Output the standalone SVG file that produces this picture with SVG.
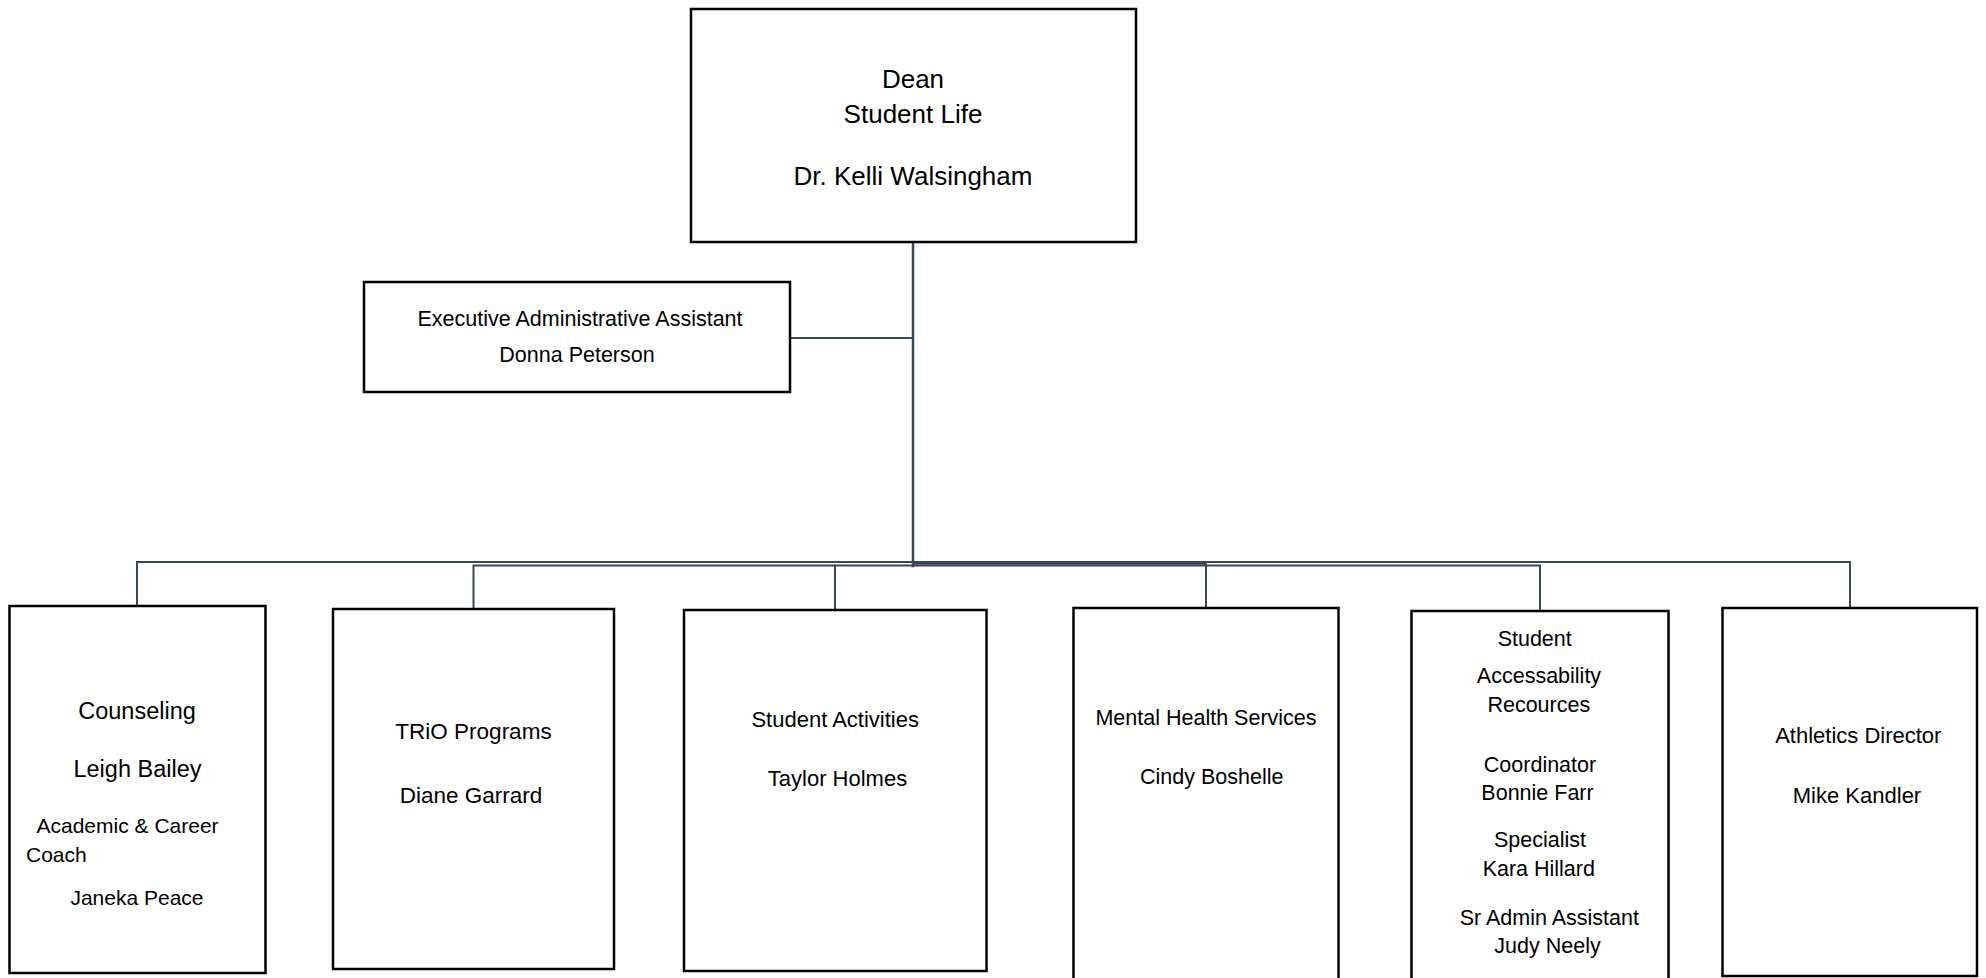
<svg xmlns="http://www.w3.org/2000/svg" width="1986" height="978" viewBox="0 0 1986 978">
<style>
.box{fill:#fff;stroke:#000;stroke-width:2.5}
.con{fill:none;stroke:#3b475a;stroke-width:2;stroke-linecap:square}
text{font-family:"Liberation Sans",Arial,sans-serif;fill:#000;text-anchor:middle}
.t26{font-size:26px}
.t235{font-size:23.5px}
.t225{font-size:22.5px}
.t22{font-size:22px}
.t215{font-size:21.5px}
.t21{font-size:21px}
</style>
<rect width="1986" height="978" fill="#fff"/>
<g id="connectors">
<path class="con" d="M913,242 V566" style="stroke-width:2.5"/>
<path class="con" d="M791,338 H913"/>
<path class="con" d="M137,606 V562 H1850 V608"/>
<path class="con" d="M473.5,609 V565.5 H1540 V611"/>
<path class="con" d="M913,563.8 H1206 V608"/>
<path class="con" d="M835,565.5 V610"/>
</g>
<g id="dean">
<rect class="box" x="691" y="9" width="445" height="233"/>
<text class="t26" x="913" y="88">Dean</text>
<text class="t26" x="913" y="123">Student Life</text>
<text class="t26" x="913" y="185">Dr. Kelli Walsingham</text>
</g>
<g id="exec-assistant">
<rect class="box" x="364" y="282" width="426" height="110"/>
<text class="t215" x="580" y="326">Executive Administrative Assistant</text>
<text class="t215" x="577" y="362">Donna Peterson</text>
</g>
<g id="counseling">
<rect class="box" x="9.5" y="606" width="256" height="367"/>
<text class="t235" x="137" y="719">Counseling</text>
<text class="t235" x="137.5" y="777">Leigh Bailey</text>
<text class="t21" x="36.5" y="833" style="text-anchor:start">Academic &amp; Career</text>
<text class="t21" x="26" y="862" style="text-anchor:start">Coach</text>
<text class="t21" x="137" y="905">Janeka Peace</text>
</g>
<g id="trio">
<rect class="box" x="333" y="609" width="281" height="360"/>
<text class="t225" x="473.5" y="739">TRiO Programs</text>
<text class="t225" x="471" y="803">Diane Garrard</text>
</g>
<g id="student-activities">
<rect class="box" x="684" y="610" width="302.5" height="361"/>
<text class="t22" x="835.2" y="727">Student Activities</text>
<text class="t22" x="837.5" y="786">Taylor Holmes</text>
</g>
<g id="mental-health">
<rect class="box" x="1073.5" y="608" width="265" height="400"/>
<text class="t215" x="1206" y="725">Mental Health Services</text>
<text class="t215" x="1211.7" y="784">Cindy Boshelle</text>
</g>
<g id="accessibility">
<rect class="box" x="1411.5" y="611" width="257" height="400"/>
<text class="t215" x="1534.7" y="646">Student</text>
<text class="t215" x="1539" y="683">Accessability</text>
<text class="t215" x="1538.8" y="712">Recources</text>
<text class="t215" x="1540" y="772">Coordinator</text>
<text class="t215" x="1537.5" y="800">Bonnie Farr</text>
<text class="t215" x="1540" y="847">Specialist</text>
<text class="t215" x="1538.8" y="876">Kara Hillard</text>
<text class="t215" x="1549.3" y="925">Sr Admin Assistant</text>
<text class="t215" x="1547.5" y="953">Judy Neely</text>
</g>
<g id="athletics">
<rect class="box" x="1722.5" y="608" width="254.5" height="368"/>
<text class="t22" x="1858.3" y="743">Athletics Director</text>
<text class="t22" x="1857" y="803">Mike Kandler</text>
</g>
</svg>
